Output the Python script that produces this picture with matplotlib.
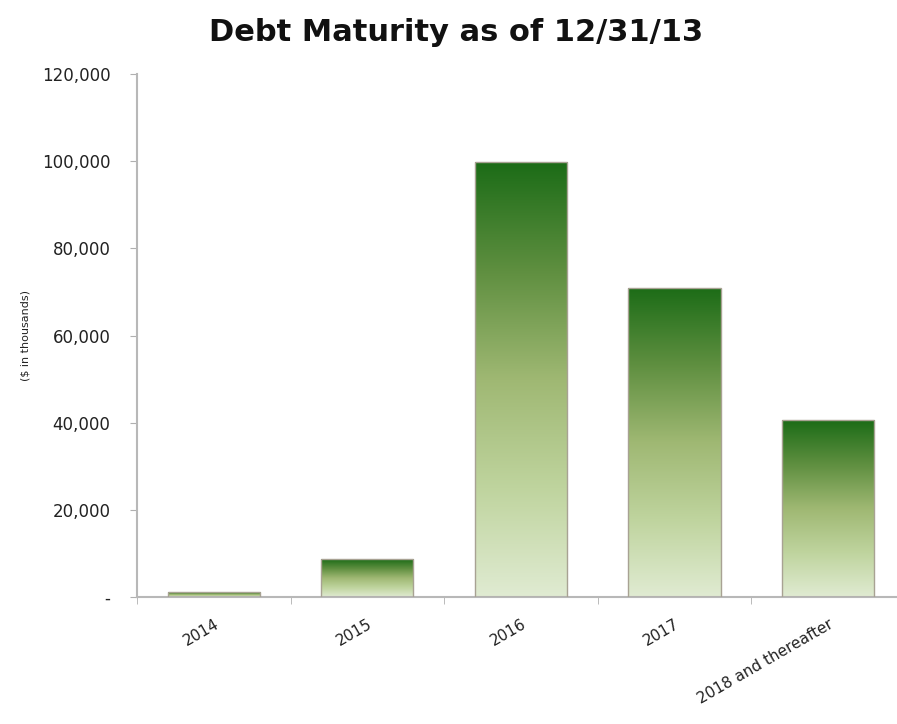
import numpy as np
import matplotlib.pyplot as plt
from matplotlib.colors import LinearSegmentedColormap
from matplotlib.ticker import FuncFormatter, FixedLocator

categories = ["2014", "2015", "2016", "2017", "2018 and thereafter"]
values = [1100, 8700, 99800, 70900, 40600]
yticks = [0, 20000, 40000, 60000, 80000, 100000, 120000]

# vertical green gradient, pale at bottom, dark at top
green = LinearSegmentedColormap.from_list(
    "green", ["#e0ebd2", "#bfd49e", "#9fb873", "#5f8f40", "#1c6c17"])

fig = plt.figure(figsize=(8.97, 7.24), dpi=100)
ax = fig.add_axes([0.1527, 0.1754, 0.856, 0.7224])

x = np.arange(len(categories))
bars = ax.bar(x, values, width=0.6, color="none", edgecolor="#a8a293", linewidth=1.0, zorder=3)

grad = np.linspace(0, 1, 256).reshape(-1, 1)
for b in bars:
    bx, by = b.get_x(), b.get_y()
    bw, bh = b.get_width(), b.get_height()
    im = ax.imshow(grad, cmap=green, origin="lower", aspect="auto",
                   extent=[bx, bx + bw, by, by + bh], zorder=2)
    im.set_clip_path(b)

ax.set_xlim(-0.5, 4.5)
ax.set_ylim(0, 120000)

ax.set_xticks(x)
ax.set_xticklabels(categories, rotation=30, ha="right", rotation_mode="anchor",
                   fontsize=11, color="#222222")
ax.xaxis.set_minor_locator(FixedLocator(np.arange(-0.5, 4.6, 1.0)))
ax.tick_params(axis="x", which="major", length=0, pad=14)
ax.tick_params(axis="x", which="minor", length=5, color="#b0b0b0", direction="out")

ax.set_yticks(yticks)
ax.yaxis.set_major_formatter(FuncFormatter(lambda v, p: "-" if v == 0 else f"{int(v):,}"))
ax.tick_params(axis="y", length=5, color="#b0b0b0", labelsize=12, labelcolor="#222222", pad=14)

for s in ["top", "right"]:
    ax.spines[s].set_visible(False)
for s in ["left", "bottom"]:
    ax.spines[s].set_color("#b8b8b8")
    ax.spines[s].set_linewidth(1.5)

ax.set_ylabel("($ in thousands)", fontsize=8, color="#222222", labelpad=8)

fig.text(0.508, 0.955, "Debt Maturity as of 12/31/13", ha="center", va="center",
         fontsize=22, fontweight="bold", color="#111111")

fig.savefig("out.png", dpi=100)
